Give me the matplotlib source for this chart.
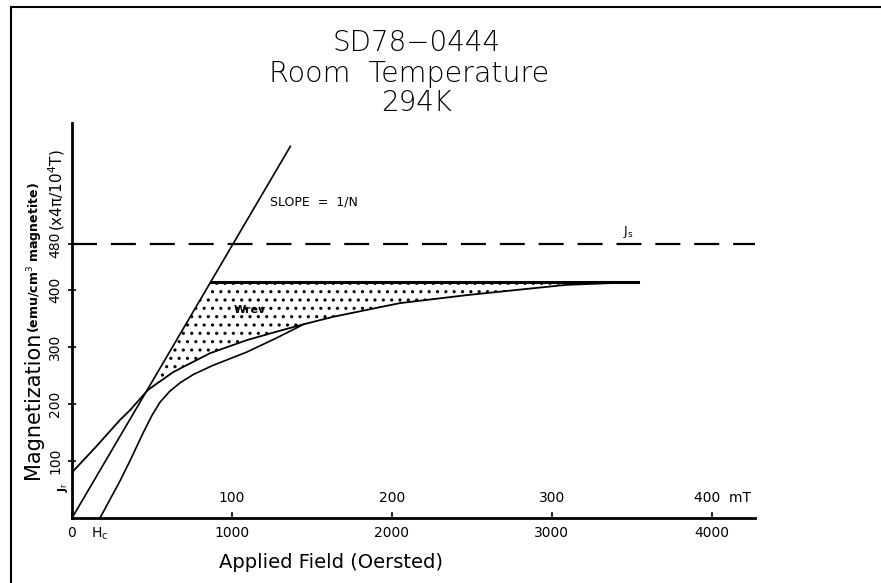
import matplotlib
matplotlib.use("Agg")
import matplotlib.pyplot as plt
from matplotlib.lines import Line2D

# --- data ---
# field in Oersted, magnetization in emu/cm3 magnetite
slope_H = [0, 1365]
slope_M = [0, 652]

upper_H = [0, 150, 300, 362, 476, 633, 862, 1092, 1280, 1450,
           1633, 2050, 2467, 2880, 3090, 3540]
upper_M = [80, 125, 172, 189, 225, 256, 289, 312, 327, 340,
           353, 377, 391, 403, 409, 414]

lower_H = [175, 300, 362, 446, 500, 550, 610, 675, 760, 883, 1092,
           1280, 1450]
lower_M = [0, 65, 100, 150, 180, 203, 222, 237, 252, 268, 291,
           316, 340]

plateau_H = [867, 3540]
plateau_M = [414, 414]

Js = 480
Hc = 175

yticks = [100, 200, 300, 400, 480]
xticks = [0, 1000, 2000, 3000, 4000]
mT_labels = ["100", "200", "300"]

plt.rcParams["lines.scale_dashes"] = False
plt.rcParams["hatch.linewidth"] = 1.1

fig = plt.figure(figsize=(8.81, 5.83), dpi=100)
ax = fig.add_axes([72/881, 65/583, 683/881, 395/583])
ax.set_xlim(0, 4270)
ax.set_ylim(0, 693)

for s in ["top", "right"]:
    ax.spines[s].set_visible(False)
for s in ["left", "bottom"]:
    ax.spines[s].set_linewidth(2)

# curves
ax.plot(slope_H, slope_M, color="k", lw=1.2)
ax.plot(upper_H, upper_M, color="k", lw=1.3)
ax.plot(lower_H, lower_M, color="k", lw=1.2)
ax.plot(plateau_H, plateau_M, color="k", lw=2.2)
ax.plot([0, 4270], [Js, Js], color="k", lw=1.6, dashes=(18, 10))

# dotted W_rev area: slope line -> plateau -> back along upper curve
i0 = upper_H.index(476)
poly_H = [476] + plateau_H + upper_H[i0:][::-1]
poly_M = [476 * slope_M[1] / slope_H[1]] + plateau_M + upper_M[i0:][::-1]
ax.fill(poly_H, poly_M, facecolor="none", edgecolor="k", hatch="..", lw=0)

# ticks
ax.set_xticks(xticks)
ax.set_xticklabels(["0", "1000", "2000", "3000", "4000"], fontsize=10)
ax.tick_params(axis="x", direction="in", length=4, width=1.2, pad=6)
ax.set_yticks(yticks)
ax.set_yticklabels([str(v) for v in yticks], rotation=90, va="center",
                   fontsize=10)
ax.tick_params(axis="y", direction="inout", length=6, width=1.2, pad=4)

ax.text(Hc, -14, "H$_\\mathrm{c}$", ha="center", va="top", fontsize=10)
for lab, h in zip(mT_labels, xticks[1:4]):
    ax.text(h, 22, lab, ha="center", va="bottom", fontsize=10)
ax.text(3890, 22, "400  mT", ha="left", va="bottom", fontsize=10)

ax.text(-95, 503, "(x4\u03c0/10$^4$T)", rotation=90, ha="center",
        va="bottom", fontsize=11)
ax.text(-55, 55, "J$_\\mathrm{r}$", rotation=90, ha="center", va="center",
        fontsize=8, fontweight="bold")

ax.text(1237, 554, "SLOPE  =  1/N", ha="left", va="center", fontsize=9)
ax.text(1112, 365, "Wrev", ha="center", va="center", fontsize=8,
        fontweight="bold")
ax.text(3475, 502, "J$_\\mathrm{s}$", ha="center", va="center", fontsize=9)

# axis titles
fig.text(331/881, 1 - 562/583, "Applied Field (Oersted)", ha="center",
         va="center", fontsize=14)
fig.text(33/881, 1 - 405/583, "Magnetization", rotation=90, ha="center",
         va="center", fontsize=15)
fig.text(35/881, 1 - 258/583, "(emu/cm$^3$ magnetite)", rotation=90,
         ha="center", va="center", fontsize=9, fontweight="bold")

# title
fig.text(417/881, 1 - 43/583, "SD78\u22120444", ha="center", va="center",
         fontsize=20, fontweight="light")
fig.text(409/881, 1 - 74/583, "Room  Temperature", ha="center",
         va="center", fontsize=20.5, fontweight="light")
fig.text(417/881, 1 - 103/583, "294K", ha="center", va="center",
         fontsize=20, fontweight="light")

# border of the scanned page
fig.add_artist(Line2D([12/881, 1], [1 - 7/583, 1 - 7/583],
                      transform=fig.transFigure, color="k", lw=1.5))
fig.add_artist(Line2D([11/881, 11/881], [0, 1 - 7/583],
                      transform=fig.transFigure, color="k", lw=1.5))

fig.savefig("out.png", dpi=100, facecolor="white")
